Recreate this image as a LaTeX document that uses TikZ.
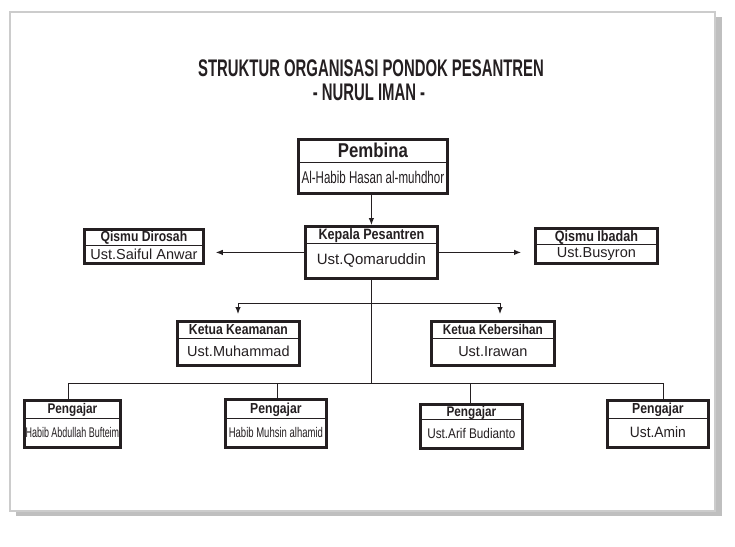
\documentclass[tikz,border=0pt]{standalone}
\usepackage{fontspec}
\usepackage{graphicx}
\setmainfont{Liberation Sans}
\newfontfamily\titlefont[FakeStretch=0.62]{Liberation Sans}
\newfontfamily\headfont[FakeStretch=0.84]{Liberation Sans}
\usetikzlibrary{arrows.meta,positioning}

\tikzset{
  orgbox/.style={draw=cline, line width=2.8pt, fill=white, inner sep=0pt, anchor=north west},
  headpart/.style={inner sep=0pt, text depth=0pt, anchor=north, text=cline},
  namepart/.style={inner sep=0pt, anchor=north, text=cline},
  divider/.style={draw=cline, line width=0.9pt},
  link/.style={draw=cline, line width=1pt},
  arrowlink/.style={link, -{Latex[length=7pt,width=5.5pt]}},
}
\newcommand{\headsz}[1]{\headfont\bfseries\fontsize{#1}{#1}\selectfont}
\newcommand{\namesz}[1]{\fontsize{#1}{#1}\selectfont}

\begin{document}
\begin{tikzpicture}[x=1pt,y=-1pt]
%
\useasboundingbox (0,0) rectangle (735,546);
%
\definecolor{cline}{rgb}{0.14,0.12,0.13}
\definecolor{cframe}{rgb}{0.80,0.80,0.80}
\definecolor{cshadow}{rgb}{0.75,0.75,0.75}
%
\fill[cshadow] (16,17) rectangle (722,516);
\draw[cframe, line width=1.3pt, fill=white] (10,12) rectangle (715,511);
%
\node[anchor=base, text=cline] (title) at (371,76) {\titlefont\bfseries\fontsize{24}{24}\selectfont STRUKTUR ORGANISASI PONDOK PESANTREN};
\node[anchor=base, text=cline] (subtitle) at (369,100) {\titlefont\bfseries\fontsize{24}{24}\selectfont - NURUL IMAN -};
%
\node[orgbox, minimum width=149pt, minimum height=54pt] (pembina) at (297,138) {};
\node[headpart, minimum width=149pt, minimum height=24pt] (pembina-h) at (pembina.north) {\headsz{20}Pembina};
\node[namepart, minimum height=30pt] (pembina-n) at (pembina-h.south) {\namesz{17}\scalebox{0.68}[1]{Al-Habib Hasan al-muhdhor}};
\draw[divider] (pembina-h.south west) -- (pembina-h.south east);
%
\node[orgbox, minimum width=132pt, minimum height=52pt] (kepala) at (304,225) {};
\node[headpart, minimum width=132pt, minimum height=18pt] (kepala-h) at (kepala.north) {\headsz{15}Kepala Pesantren};
\node[namepart, minimum height=34pt] (kepala-n) at (kepala-h.south) {\namesz{15}Ust.Qomaruddin};
\draw[divider] (kepala-h.south west) -- (kepala-h.south east);
%
\node[orgbox, minimum width=119pt, minimum height=34pt] (dirosah) at (83,228) {};
\node[headpart, minimum width=119pt, minimum height=17pt] (dirosah-h) at (dirosah.north) {\headsz{14.5}Qismu Dirosah};
\node[namepart, minimum height=17pt] (dirosah-n) at (dirosah-h.south) {\namesz{14.5}Ust.Saiful Anwar};
\draw[divider] (dirosah-h.south west) -- (dirosah-h.south east);
%
\node[orgbox, minimum width=122pt, minimum height=35pt] (ibadah) at (534,227) {};
\node[headpart, minimum width=122pt, minimum height=17pt] (ibadah-h) at (ibadah.north) {\headsz{15}Qismu Ibadah};
\node[namepart, minimum height=18pt] (ibadah-n) at (ibadah-h.south) {\namesz{14.5}Ust.Busyron};
\draw[divider] (ibadah-h.south west) -- (ibadah-h.south east);
%
\node[orgbox, minimum width=122pt, minimum height=44pt] (keamanan) at (176,320) {};
\node[headpart, minimum width=122pt, minimum height=18pt] (keamanan-h) at (keamanan.north) {\headsz{14.5}Ketua Keamanan};
\node[namepart, minimum height=26pt] (keamanan-n) at (keamanan-h.south) {\namesz{14.5}Ust.Muhammad};
\draw[divider] (keamanan-h.south west) -- (keamanan-h.south east);
%
\node[orgbox, minimum width=123pt, minimum height=44pt] (kebersihan) at (430,320) {};
\node[headpart, minimum width=123pt, minimum height=18pt] (kebersihan-h) at (kebersihan.north) {\headsz{14}Ketua Kebersihan};
\node[namepart, minimum height=26pt] (kebersihan-n) at (kebersihan-h.south) {\namesz{14.5}Ust.Irawan};
\draw[divider] (kebersihan-h.south west) -- (kebersihan-h.south east);
%
\node[orgbox, minimum width=96pt, minimum height=47pt] (pengajar1) at (23,399) {};
\node[headpart, minimum width=96pt, minimum height=19pt] (pengajar1-h) at (pengajar1.north) {\headsz{14}Pengajar};
\node[namepart, minimum height=28pt] (pengajar1-n) at (pengajar1-h.south) {\namesz{14}\scalebox{0.64}[1]{Habib Abdullah Bufteim}};
\draw[divider] (pengajar1-h.south west) -- (pengajar1-h.south east);
%
\node[orgbox, minimum width=101pt, minimum height=48pt] (pengajar2) at (224,398) {};
\node[headpart, minimum width=101pt, minimum height=20pt] (pengajar2-h) at (pengajar2.north) {\headsz{14.5}Pengajar};
\node[namepart, minimum height=28pt] (pengajar2-n) at (pengajar2-h.south) {\namesz{14}\scalebox{0.68}[1]{Habib Muhsin alhamid}};
\draw[divider] (pengajar2-h.south west) -- (pengajar2-h.south east);
%
\node[orgbox, minimum width=102pt, minimum height=44pt] (pengajar3) at (419,403) {};
\node[headpart, minimum width=102pt, minimum height=16pt] (pengajar3-h) at (pengajar3.north) {\headsz{14}Pengajar};
\node[namepart, minimum height=28pt] (pengajar3-n) at (pengajar3-h.south) {\namesz{14}\scalebox{0.84}[1]{Ust.Arif Budianto}};
\draw[divider] (pengajar3-h.south west) -- (pengajar3-h.south east);
%
\node[orgbox, minimum width=101pt, minimum height=47pt] (pengajar4) at (606,399) {};
\node[headpart, minimum width=101pt, minimum height=19pt] (pengajar4-h) at (pengajar4.north) {\headsz{14.5}Pengajar};
\node[namepart, minimum height=28pt] (pengajar4-n) at (pengajar4-h.south) {\namesz{15}\scalebox{0.92}[1]{Ust.Amin}};
\draw[divider] (pengajar4-h.south west) -- (pengajar4-h.south east);
%
\coordinate (branchL) at (238,303);
\coordinate (branchR) at (500,303);
\coordinate (bus1) at (68,383);
\coordinate (bus2) at (277,383);
\coordinate (bus3) at (470,383);
\coordinate (bus4) at (663,383);
%
\draw[arrowlink] (pembina.south -| kepala.north) -- (kepala.north);
\draw[arrowlink, shorten >=11pt] (kepala.west) -- (dirosah.east |- kepala.west);
\draw[arrowlink, shorten >=13pt] (kepala.east) -- (ibadah.west |- kepala.east);
\draw[link] (kepala.south) -- (kepala.south |- bus1);
\draw[link] (branchL) -- (branchR);
\draw[arrowlink, shorten >=6pt] (branchL) -- (branchL |- keamanan.north);
\draw[arrowlink, shorten >=6pt] (branchR) -- (branchR |- kebersihan.north);
\draw[link] (bus1) -- (bus4);
\draw[link] (bus1) -- (bus1 |- pengajar1.north);
\draw[link] (bus2) -- (bus2 |- pengajar2.north);
\draw[link] (bus3) -- (bus3 |- pengajar3.north);
\draw[link] (bus4) -- (bus4 |- pengajar4.north);
%
\end{tikzpicture}
\end{document}
